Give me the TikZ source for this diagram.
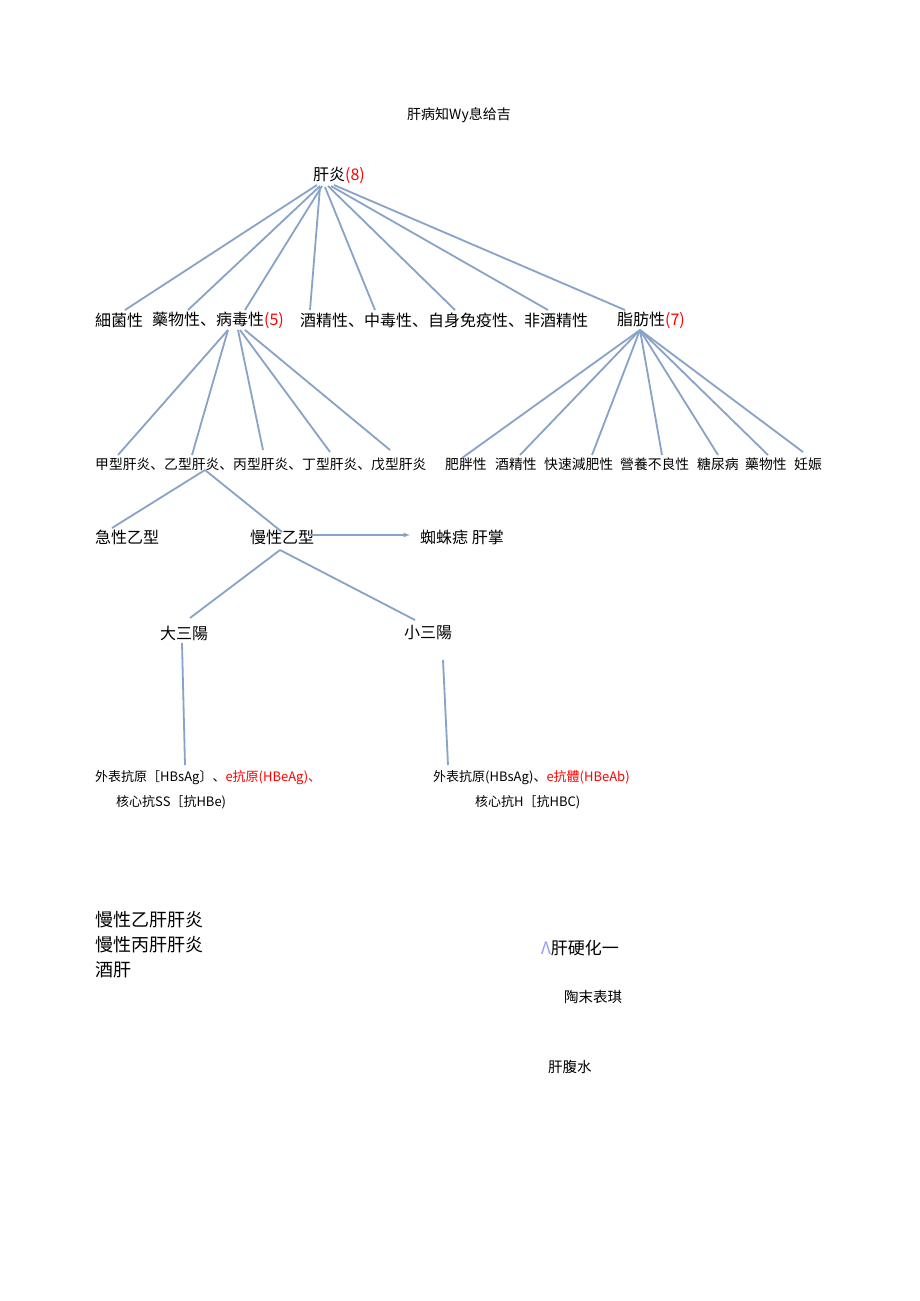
\documentclass[tikz,border=0pt]{standalone}
\usepackage{fontspec}
\setmainfont{Noto Sans CJK SC}
\begin{document}
\begin{tikzpicture}[x=1pt,y=-1pt,
  lbl/.style={anchor=west,inner sep=0pt,font=\fontsize{#1}{#1}\selectfont},
  lbl/.default=16,
  ln/.style={draw={rgb,255:red,135;green,163;blue,200},line width=1.8pt},
  rd/.style={color=red}]
\useasboundingbox[fill=white] (0,0) rectangle (920,1301);
\node[lbl=14,anchor=center] (title) at (459,115) {肝病知Wy息给吉};
\node[lbl] (root) at (313,175) {肝炎{\color{red}(8)}};
% level 2
\node[lbl] (xj) at (95,320) {細菌性};
\node[lbl] (yw) at (152,320) {藥物性、病毒性{\color{red}(5)}};
\node[lbl] (jj) at (300,320) {酒精性、中毒性、自身免疫性、非酒精性};
\node[lbl] (zf) at (617,320) {脂肪性{\color{red}(7)}};
% level 3
\node[lbl=13.8] (gan) at (95,464) {甲型肝炎、乙型肝炎、丙型肝炎、丁型肝炎、戊型肝炎};
\node[lbl=13.8] (f1) at (445,464) {肥胖性};
\node[lbl=13.8] (f2) at (495,464) {酒精性};
\node[lbl=13.8] (f3) at (544,464) {快速減肥性};
\node[lbl=13.8] (f4) at (620,464) {營養不良性};
\node[lbl=13.8] (f5) at (697,464) {糖尿病};
\node[lbl=13.8] (f6) at (745,464) {藥物性};
\node[lbl=13.8] (f7) at (794,464) {妊娠};
% level 4
\node[lbl] (jx) at (95,537) {急性乙型};
\node[lbl] (mx) at (250,537) {慢性乙型};
\node[lbl] (zz) at (420,537) {蜘蛛痣\ 肝掌};
\node[lbl] (dsy) at (160,633) {大三陽};
\node[lbl] (xsy) at (404,633) {小三陽};
\node[lbl=13] (a1) at (95,778) {外表抗原［HBsAg〕、{\color{red}e抗原(HBeAg)、}};
\node[lbl=13] (a2) at (116,802) {核心抗SS［抗HBe)};
\node[lbl=13] (b1) at (433,778) {外表抗原(HBsAg)、{\color{red}e抗體(HBeAb)}};
\node[lbl=13] (b2) at (475,802) {核心抗H［抗HBC)};
% bottom
\node[lbl=18] (c1) at (95,920) {慢性乙肝肝炎};
\node[lbl=18] (c2) at (95,945) {慢性丙肝肝炎};
\node[lbl=18] (c3) at (95,970) {酒肝};
\node[lbl=17] (d1) at (541,948) {{\color{blue!40}Λ}肝硬化一};
\node[lbl=14.5] (d2) at (564,997) {陶末表琪};
\node[lbl=14.5] (d3) at (548,1067) {肝腹水};
% connector coordinates
\foreach \n/\x/\y in {r1/317/185,r2/320/186,r3/322/186,r4/320/187,r5/325/187,r6/328/186,r7/331/186,r8/334/185,
  t1/125/310,t2/188/310,t3/245/310,t4/310/310,t5/375/310,t6/455/310,t7/548/310,t8/625/310,
  v0/228/330,v1/118/455,v2/192/455,v3/263/450,v4/330/452,v5/390/450,
  z0/640/330,z1/462/458,z2/520/455,z3/592/455,z4/662/455,z5/718/455,z6/768/455,z7/803/452,
  y0/205/470,y1/112/528,y2/282/532,m0/280/550,m1/190/618,m2/415/620,
  d0/182/643,dd/185/765,x0/443/660,xx/448/765,ar0/310/535,ar1/410/535}
  {\coordinate (\n) at (\x,\y);}
\foreach \i in {1,...,8} {\draw[ln] (r\i) -- (t\i);}
\draw[ln] (v0) -- (v1); \draw[ln] (v0) -- (v2);
\draw[ln] (238,330) -- (v3); \draw[ln] (240,330) -- (v4); \draw[ln] (245,330) -- (v5);
\foreach \i in {1,...,7} {\draw[ln] (z0) -- (z\i);}
\draw[ln] (y0) -- (y1); \draw[ln] (y0) -- (y2);
\draw[ln] (m0) -- (m1); \draw[ln] (m0) -- (m2);
\draw[ln] (d0) -- (dd); \draw[ln] (x0) -- (xx);
\draw[ln,line width=1.2pt,-latex] (ar0) -- (ar1);
\end{tikzpicture}
\end{document}
